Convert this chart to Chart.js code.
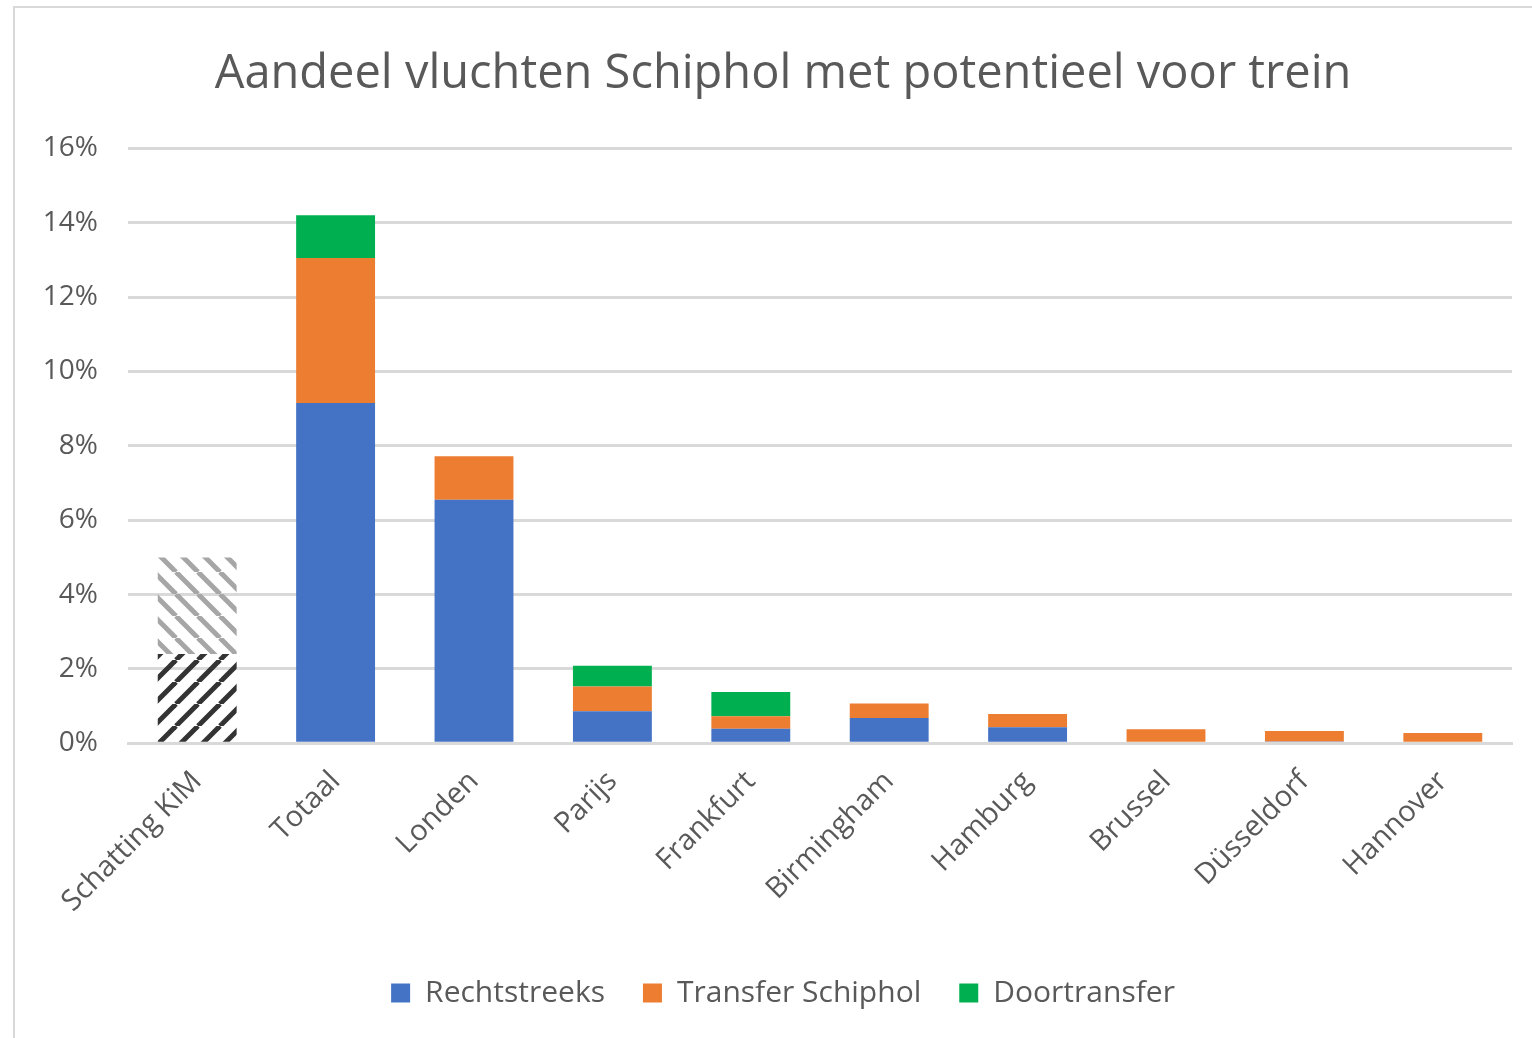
<!DOCTYPE html>
<html>
<head>
<meta charset="utf-8">
<script src="https://cdn.jsdelivr.net/npm/chart.js@4/dist/chart.umd.min.js"></script>
<style>
  body { margin: 0; background: #fff; overflow: hidden; }
  #frame { position: absolute; left: 13px; top: 6px; width: 1540px; height: 1050px; border: 2px solid #d9d9d9; box-sizing: border-box; }
  #wrap { position: absolute; left: 0; top: 0; width: 1532px; height: 1038px; }
</style>
</head>
<body>
<div id="frame"></div>
<div id="wrap"><canvas id="chart"></canvas></div>
<script>
const categories = ["Schatting KiM", "Totaal", "Londen", "Parijs", "Frankfurt", "Birmingham", "Hamburg", "Brussel", "Düsseldorf", "Hannover"];
const rechtstreeks = [null, 9.15, 6.55, 0.86, 0.39, 0.68, 0.43, 0, 0.05, 0];
const transferSchiphol = [null, 3.9, 1.17, 0.67, 0.34, 0.39, 0.36, 0.38, 0.28, 0.28];
const doortransfer = [null, 1.15, 0, 0.56, 0.65, 0, 0, 0, 0, 0];
const kimLaag = [2.4, null, null, null, null, null, null, null, null, null];
const kimHoog = [2.6, null, null, null, null, null, null, null, null, null];
const yTicks = [0, 2, 4, 6, 8, 10, 12, 14, 16];

function hatch(color, dir) {
  const size = 22;
  const c = document.createElement("canvas");
  c.width = size; c.height = size;
  const g = c.getContext("2d");
  g.strokeStyle = color;
  g.lineWidth = 5;
  for (let x = -size; x <= size; x += size) {
    g.beginPath();
    if (dir === "/") { g.moveTo(x, size); g.lineTo(x + size, 0); }
    else { g.moveTo(x, 0); g.lineTo(x + size, size); }
    g.stroke();
  }
  return g.createPattern(c, "repeat");
}

const grey = "#595959";
const font = "'Open Sans', sans-serif";

// title and legend sit a bit right of the canvas centre in the original
const shiftBoxes = {
  id: "shiftBoxes",
  afterLayout(chart) {
    [chart.titleBlock, chart.legend].forEach(b => {
      if (b) { b.left += 27; b.right += 27; }
    });
  }
};

new Chart(document.getElementById("chart"), {
  type: "bar",
  data: {
    labels: categories,
    datasets: [
      { label: "Rechtstreeks", data: rechtstreeks, backgroundColor: "#4472c4" },
      { label: "Transfer Schiphol", data: transferSchiphol, backgroundColor: "#ed7d31" },
      { label: "Doortransfer", data: doortransfer, backgroundColor: "#00b050" },
      { label: "KiM laag", data: kimLaag, backgroundColor: hatch("#333333", "/") },
      { label: "KiM hoog", data: kimHoog, backgroundColor: hatch("#a6a6a6", "\\") }
    ]
  },
  plugins: [shiftBoxes],
  options: {
    responsive: true,
    maintainAspectRatio: false,
    animation: false,
    datasets: { bar: { categoryPercentage: 1, barPercentage: 0.57 } },
    layout: { padding: { left: 0, right: 20, top: 0, bottom: 20 } },
    plugins: {
      title: {
        display: true,
        text: "Aandeel vluchten Schiphol met potentieel voor trein",
        color: grey,
        font: { family: font, size: 47, weight: "normal" },
        padding: { top: 46, bottom: 46 }
      },
      legend: {
        position: "bottom",
        labels: {
          filter: item => item.datasetIndex < 3,
          color: grey,
          font: { family: font, size: 30 },
          boxWidth: 19,
          boxHeight: 19,
          padding: 38
        }
      },
      tooltip: { enabled: false }
    },
    scales: {
      x: {
        stacked: true,
        grid: { display: false, drawTicks: false },
        border: { color: "#d9d9d9", width: 3 },
        ticks: {
          color: grey,
          font: { family: font, size: 29 },
          minRotation: 45,
          maxRotation: 45,
          padding: 21
        }
      },
      y: {
        stacked: true,
        min: 0,
        max: 16,
        afterFit: s => { s.width = 128; },
        afterBuildTicks: s => { s.ticks = yTicks.map(v => ({ value: v })); },
        grid: { color: "#d9d9d9", lineWidth: 3, drawTicks: false },
        border: { display: false },
        ticks: {
          color: grey,
          font: { family: font, size: 28 },
          padding: 30,
          callback: v => v + "%"
        }
      }
    }
  }
});
</script>
</body>
</html>
